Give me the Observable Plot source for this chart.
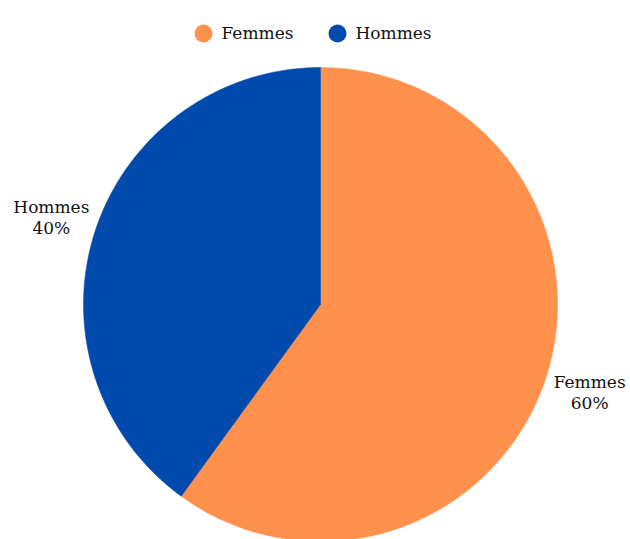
<!DOCTYPE html>
<html><head><meta charset="utf-8">
<script src="https://cdn.jsdelivr.net/npm/d3@7"></script>
<script src="https://cdn.jsdelivr.net/npm/@observablehq/plot@0.6"></script>
<style>
body{margin:0;background:#fff;font-family:"DejaVu Serif",serif;}
</style></head><body><div id="chart"></div>
<script>
const categories = ["Femmes", "Hommes"];
const values = [60, 40];
const colors = ["#FF914D", "#004AAD"];

const W = 630, H = 539, cx = 320, cy = 304, r = 237, labelR = 283;
const data = categories.map((c, i) => ({category: c, value: values[i]}));
const pie = d3.pie().sort(null).value(d => d.value)(data);

const poly = [];
pie.forEach(p => {
  const n = 200;
  poly.push({category: p.data.category, x: cx, y: cy});
  for (let k = 0; k <= n; k++) {
    const a = p.startAngle + (p.endAngle - p.startAngle) * k / n;
    poly.push({category: p.data.category, x: cx + r * Math.sin(a), y: cy - r * Math.cos(a)});
  }
  poly.push({category: p.data.category, x: cx, y: cy});
});
const labels = pie.map(p => {
  const a = (p.startAngle + p.endAngle) / 2;
  return {text: p.data.category + "\n" + p.data.value + "%", x: cx + labelR * Math.sin(a), y: cy - labelR * Math.cos(a)};
});
const legend = categories.map((c, i) => ({category: c, x: [203, 337][i], y: 33}));

const chart = Plot.plot({
  width: W, height: H, margin: 0,
  x: {type: "identity", axis: null}, y: {type: "identity", axis: null},
  color: {domain: categories, range: colors},
  style: {fontFamily: "DejaVu Serif, serif", background: "#fff"},
  marks: [
    Plot.line(poly, {x: "x", y: "y", z: "category", fill: "category", stroke: "category", strokeWidth: 0.5}),
    Plot.text(labels, {x: "x", y: "y", text: "text", fontSize: 17, lineHeight: 1.25, fill: "#111", textAnchor: "middle"}),
    Plot.dot(legend, {x: "x", y: "y", r: 9, fill: "category"}),
    Plot.text(legend, {x: "x", y: "y", dx: 18, text: "category", textAnchor: "start", fontSize: 17, fill: "#111"})
  ]
});
document.getElementById("chart").appendChild(chart);
</script></body></html>
